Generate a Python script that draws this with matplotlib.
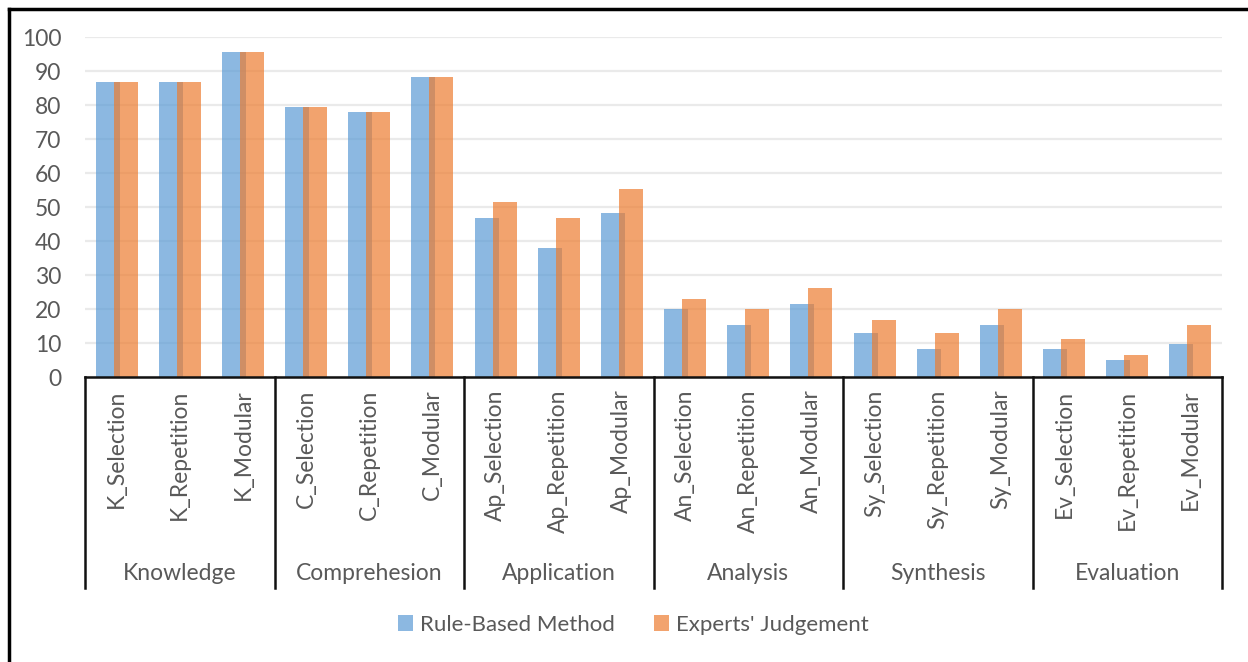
import matplotlib
matplotlib.use("Agg")
import matplotlib.pyplot as plt
import matplotlib.transforms as mtransforms
from matplotlib.lines import Line2D
from matplotlib.patches import Patch
import numpy as np

plt.rcParams['font.family'] = ['Lato', 'DejaVu Sans']

# ---- data ----
groups = ["Knowledge", "Comprehesion", "Application", "Analysis", "Synthesis", "Evaluation"]
prefixes = ["K", "C", "Ap", "An", "Sy", "Ev"]
subtypes = ["Selection", "Repetition", "Modular"]
categories = [f"{p}_{s}" for p in prefixes for s in subtypes]

rule_based = [86.7, 86.7, 95.5,
              79.5, 78.0, 88.2,
              46.7, 38.0, 48.3,
              19.9, 15.2, 21.6,
              12.8, 8.1, 15.2,
              8.1, 5.0, 9.7]
experts = [86.7, 86.7, 95.5,
           79.5, 78.0, 88.2,
           51.4, 46.7, 55.3,
           23.0, 19.9, 26.2,
           16.8, 12.8, 19.9,
           11.3, 6.6, 15.2]

series_names = ["Rule-Based Method", "Experts' Judgement"]
yticks = list(range(0, 101, 10))

# ---- styling ----
blue = "#5B9BD5"
orange = "#ED7D31"
bar_alpha = 0.7
text_color = "#595959"
fs = 16.5
W, H = 1248, 662

fig = plt.figure(figsize=(W / 100, H / 100), dpi=100)
ax_left, ax_right = 85 / W, 1222 / W
ax_bottom, ax_top = 1 - 377 / H, 1 - 37 / H
ax = fig.add_axes([ax_left, ax_bottom, ax_right - ax_left, ax_top - ax_bottom])

x = np.arange(len(categories))
width = 0.38
offset = 0.143
ax.bar(x - offset, rule_based, width, color=blue, alpha=bar_alpha, zorder=3,
       label=series_names[0])
ax.bar(x + offset, experts, width, color=orange, alpha=bar_alpha, zorder=4,
       label=series_names[1])

ax.set_xlim(-0.5, len(categories) - 0.5)
ax.set_ylim(0, 100)
ax.set_yticks(yticks)
ax.set_yticklabels([str(v) for v in yticks], fontsize=fs, color=text_color)
ax.yaxis.grid(True, color="#EAEAEA", linewidth=1.6, zorder=0)
ax.set_axisbelow(True)

ax.set_xticks(x)
ax.set_xticklabels(categories, rotation=90, fontsize=fs, color=text_color)
ax.tick_params(axis="x", length=0, pad=9)
ax.tick_params(axis="y", length=0, pad=17)

for side in ["left", "right", "top"]:
    ax.spines[side].set_visible(False)
ax.spines["bottom"].set_color("#111111")
ax.spines["bottom"].set_linewidth(1.8)
ax.spines["bottom"].set_zorder(5)

# group separators and group names below the category labels
trans = mtransforms.blended_transform_factory(ax.transData, ax.transAxes)
axis_px = 377 - 37
sep_bottom = -(588 - 377) / axis_px
name_y = -(574 - 377) / axis_px
n_sub = len(subtypes)
for i in range(len(groups) + 1):
    xb = i * n_sub - 0.5
    ax.plot([xb, xb], [0, sep_bottom], transform=trans, color="#111111",
            linewidth=1.8, clip_on=False, zorder=5)
for i, g in enumerate(groups):
    ax.text(i * n_sub + (n_sub - 1) / 2, name_y, g, transform=trans,
            ha="center", va="center", fontsize=fs, color=text_color)

# legend
handles = [Patch(facecolor=blue, alpha=bar_alpha), Patch(facecolor=orange, alpha=bar_alpha)]
fig.legend(handles, series_names, loc="center", bbox_to_anchor=(633 / W, 1 - 625 / H),
           ncol=2, frameon=False, fontsize=16, labelcolor=text_color,
           handlelength=0.7, handleheight=0.7, handletextpad=0.3, columnspacing=1.75)

# outer frame (left and top edges)
fig.add_artist(Line2D([9 / W, 9 / W], [0, 1 - 9 / H], transform=fig.transFigure,
                      color="black", linewidth=2.5))
fig.add_artist(Line2D([9 / W, 1], [1 - 9 / H, 1 - 9 / H], transform=fig.transFigure,
                      color="black", linewidth=2.5))

fig.savefig("out.png", dpi=100)
